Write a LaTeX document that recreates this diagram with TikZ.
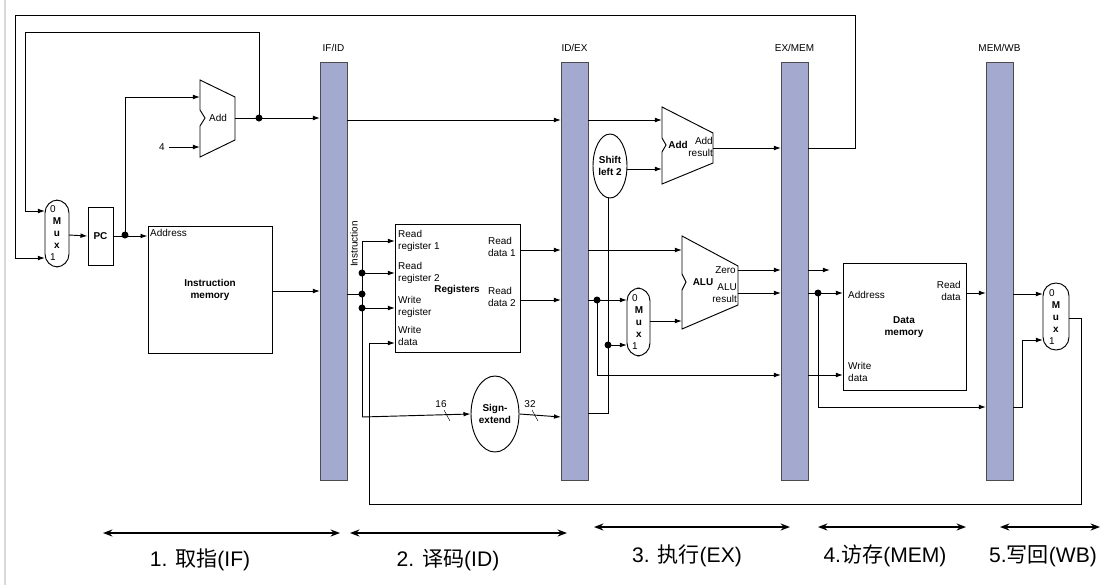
\documentclass[tikz,border=0pt]{standalone}
\usepackage{fontspec}
\setmainfont{Liberation Sans}
\newfontfamily\cjk{Noto Sans CJK SC}
\usetikzlibrary{arrows.meta,shapes.geometric,calc}
\definecolor{regfill}{RGB}{164,170,207}
\tikzset{
  wire/.style={-{Latex[length=6pt,width=4pt]},thick},
  line/.style={thick},
  box/.style={draw,thick,fill=white},
  lbl/.style={font=\fontsize{8.5}{10}\selectfont,align=left,inner sep=0pt},
  bl/.style={font=\fontsize{8.5}{10}\selectfont\bfseries,align=center,inner sep=0pt},
  stage/.style={{Stealth[length=8pt]}-{Stealth[length=8pt]},line width=2pt},
  stext/.style={font=\fontsize{18}{21}\selectfont}
}
\newcommand{\dotat}[1]{\fill (#1) circle (3.5);}
\newcommand{\muxlbl}[1]{%
  \node[lbl] at ($(#1)+(-4,-24)$) {0};
  \node[bl] at (#1) {M\\u\\x};
  \node[lbl] at ($(#1)+(-4,24)$) {1};}
\begin{document}
\begin{tikzpicture}[x=0.03cm,y=-0.03cm]
\useasboundingbox (0,0) rectangle (1113,585);
\draw[black!15,line width=2pt] (5,0) -- (5,585);
% pipeline registers
\foreach \x/\n in {320/IF\slash ID,561/ID\slash EX,781/EX\slash MEM,986/MEM\slash WB}{
  \fill[regfill] (\x,62) rectangle (\x+27,480);
  \draw[black!70] (\x,62) rectangle (\x+27,480);
  \node[lbl] at (\x+13.5,48) {\n};
}
% IF stage
\draw[thick,rounded corners=11] (45,200) rectangle (69,267);
\coordinate (muxif) at (57,233); \muxlbl{muxif}
\node[box,minimum width=25*0.03cm,minimum height=58*0.03cm] (pc) at (100.5,236) {};
\node[bl] at (pc) {PC};
\draw[thick] (200,80) -- (235,97) -- (235,140) -- (200,157) -- (200,126) -- (205,118) -- (200,110) -- cycle;
\node[lbl] at (218,118) {Add};
\node[box,minimum width=124*0.03cm,minimum height=127*0.03cm] (imem) at (210,289.5) {};
\node[lbl,anchor=north west] at (150,229) {Address};
\node[bl] at (210,290) {Instruction\\memory};
\node[lbl] (four) at (162,147) {4};
\draw[wire] (69,235) -- (pc.west);
\draw[wire] (pc.east) -- (imem.west |- pc.east);
\dotat{125,235}
\draw[wire] (125,235) -- (125,97) -- (200,97);
\draw[wire] (four.east) ++(4,0) -- (200,147);
\draw[wire] (235,118) -- (320,118);
\dotat{259,118}
\draw[wire] (259,118) -- (259,32) -- (25,32) -- (25,211) -- (45,211);
\draw[wire] (808,148) -- (855,148) -- (855,15) -- (15,15) -- (15,258) -- (45,258);
\draw[wire] (imem.east |- 0,291) -- (320,291);
% ID stage
\node[lbl,rotate=90] at (354,244) {Instruction};
\node[box,minimum width=125*0.03cm,minimum height=128*0.03cm] (regs) at (457.5,288) {};
\node[lbl,anchor=north west] at (398,230) {Read\\register 1};
\node[lbl,anchor=north west] at (398,262) {Read\\register 2};
\node[lbl,anchor=north west] at (398,296) {Write\\register};
\node[lbl,anchor=north west] at (398,326) {Write\\data};
\node[bl] at (457,290) {Registers};
\node[lbl,anchor=north east] at (516,237) {Read\\data 1};
\node[lbl,anchor=north east] at (516,287) {Read\\data 2};
\node[draw,thick,ellipse,minimum width=48*0.03cm,minimum height=76*0.03cm,fill=white] (sext) at (495,414) {};
\node[bl] at (sext) {Sign-\\extend};
\draw[line] (347,294) -- (362,294);
\draw[line] (362,241) -- (362,417);
\draw[wire] (362,241) -- (395,241);
\draw[wire] (362,273) -- (395,273);
\draw[wire] (362,308) -- (395,308);
\dotat{362,273} \dotat{362,294} \dotat{362,308}
\draw[wire] (362,417) -- (sext.west);
\draw (444,410) -- (450,421); \node[lbl] at (441,404) {16};
\draw (532,410) -- (538,421); \node[lbl] at (530,404) {32};
\draw[wire] (sext.east) -- (561,417);
\draw[wire] (520,250) -- (561,250);
\draw[wire] (520,300) -- (561,300);
\draw[wire] (347,120) -- (561,120);
\draw[wire] (1069,318) -- (1081,318) -- (1081,504) -- (369,504) -- (369,343) -- (395,343);
% EX stage
\node[draw,thick,ellipse,minimum width=34*0.03cm,minimum height=64*0.03cm,fill=white] (shl) at (610,166) {};
\node[bl] at (shl) {Shift\\left 2};
\draw[thick] (662,107) -- (713,133) -- (713,163) -- (662,184) -- (662,152) -- (666,145) -- (662,138) -- cycle;
\node[bl] at (678,145) {Add};
\node[lbl,align=right,anchor=east] at (713,147) {Add\\result};
\draw[thick] (682,236) -- (738,266) -- (738,305) -- (682,329) -- (682,290) -- (686,282) -- (682,274) -- cycle;
\node[bl] at (703,282) {ALU};
\node[lbl,anchor=east] at (736,270) {Zero};
\node[lbl,align=right,anchor=east] at (737,293) {ALU\\result};
\draw[thick,rounded corners=11] (627,288) rectangle (650,356);
\coordinate (muxex) at (639,322); \muxlbl{muxex}
\draw[wire] (588,120) -- (662,120);
\draw[thick] (588,413) -- (608,413) -- (608,198);
\draw[wire] (shl.east |- 0,169) -- (662,169);
\draw[wire] (713,148) -- (781,148);
\draw[wire] (588,250) -- (682,250);
\draw[wire] (588,300) -- (627,300);
\dotat{597,300}
\draw[wire] (597,300) -- (597,375) -- (781,375);
\dotat{608,345}
\draw[wire] (608,345) -- (627,345);
\draw[wire] (650,321) -- (682,321);
\draw[wire] (738,270) -- (781,270);
\draw[wire] (738,293) -- (781,293);
% MEM stage
\node[box,minimum width=123*0.03cm,minimum height=127*0.03cm] (dmem) at (904.5,326.5) {};
\node[lbl,anchor=west] at (848,295) {Address};
\node[lbl,align=right,anchor=north east] at (961,281) {Read\\data};
\node[bl] at (904,327) {Data\\memory};
\node[lbl,anchor=north west] at (848,362) {Write\\data};
\draw[wire] (808,270) -- (830,270);
\draw[wire] (808,293) -- (843,293);
\dotat{818,293}
\draw[wire] (818,293) -- (818,407) -- (986,407);
\draw[wire] (808,375) -- (843,375);
\draw[wire] (966,293) -- (986,293);
% WB stage
\draw[thick,rounded corners=11] (1043,283) rectangle (1069,350);
\coordinate (muxwb) at (1056,317); \muxlbl{muxwb}
\draw[wire] (1013,294) -- (1043,294);
\draw[wire] (1013,407) -- (1022,407) -- (1022,340) -- (1043,340);
% stages
\draw[stage] (103,533) -- (340,533);
\draw[stage] (350,533) -- (567,533);
\draw[stage] (594,527) -- (790,527);
\draw[stage] (818,527) -- (966,527);
\draw[stage] (1000,527) -- (1100,527);
\node[stext] at (200,560) {1. {\cjk 取指}(IF)};
\node[stext] at (448,560) {2. {\cjk 译码}(ID)};
\node[stext] at (687,556) {3. {\cjk 执行}(EX)};
\node[stext] at (885,556) {4.{\cjk 访存}(MEM)};
\node[stext] at (1043,556) {5.{\cjk 写回}(WB)};
\end{tikzpicture}
\end{document}
